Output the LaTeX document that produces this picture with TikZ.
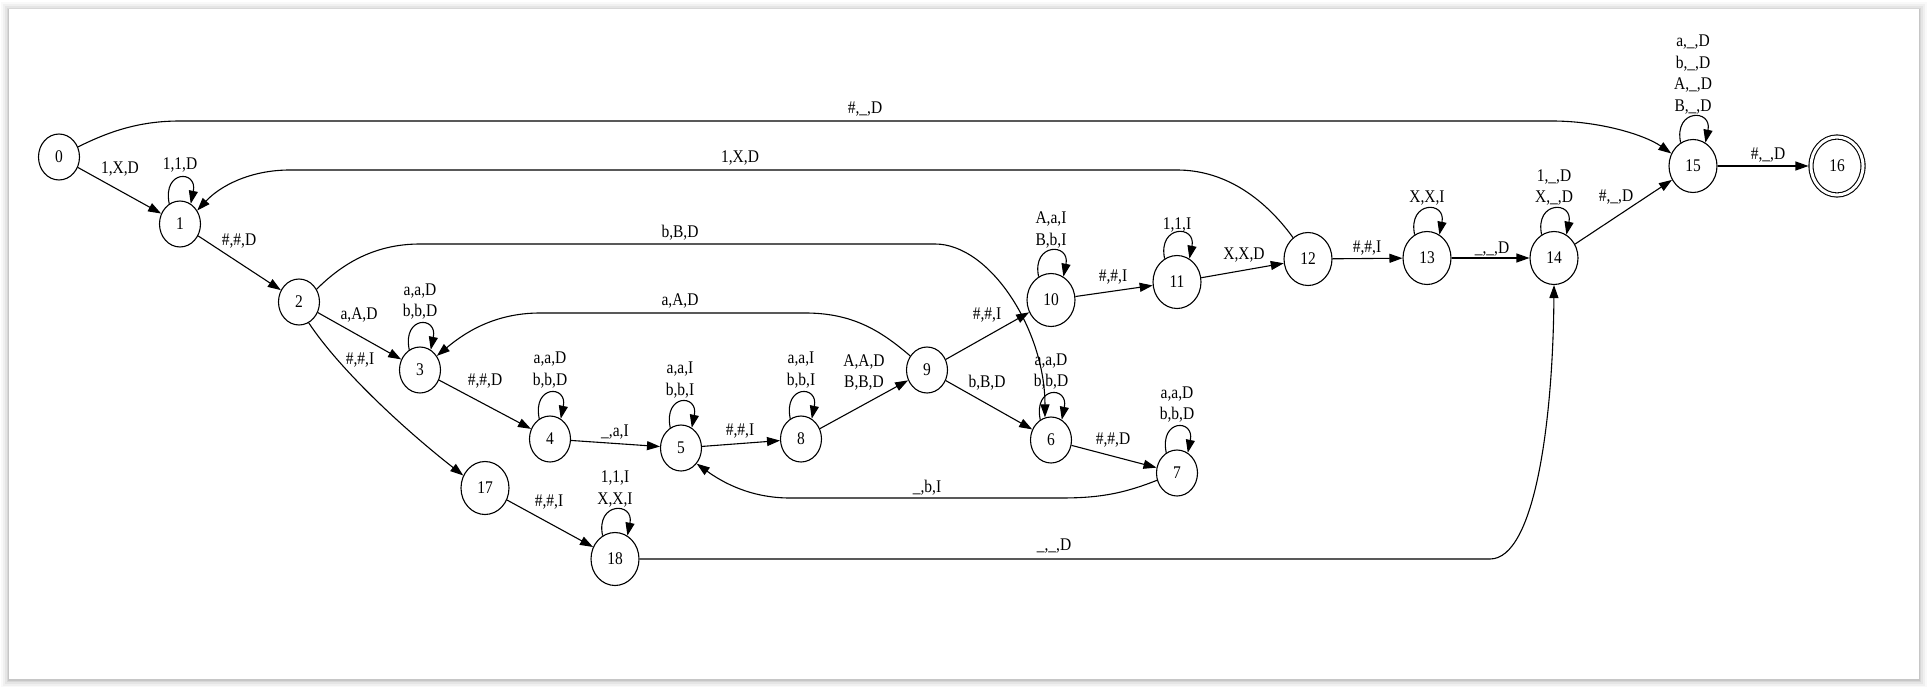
\documentclass[tikz,border=0pt]{standalone}
\usepackage{fontspec}
\setmainfont{Liberation Serif}[FakeStretch=0.87]
\usetikzlibrary{shapes.geometric,arrows.meta}
\newcommand\glab{\fontsize{17.8}{21.5}\selectfont}
\newcommand\gloop[1]{\draw[tr] (#1.118) .. controls +(-7,-34) and +(7,-34) .. (#1.62);}
\tikzset{
  st/.style={draw, ellipse, line width=1.1pt, minimum width=41pt, minimum height=46pt, inner sep=0pt, font=\glab},
  stw/.style={st, minimum width=48pt, minimum height=53pt},
  acc/.style={st, double, double distance=3pt, minimum width=52pt, minimum height=58pt},
  tr/.style={draw, line width=1.1pt, -{Triangle[length=13pt,width=9pt]}},
  lb/.style={font=\glab, align=center, inner sep=0pt},
}
\begin{document}
\begin{tikzpicture}[x=1pt,y=-1pt]
\useasboundingbox (0,0) rectangle (1927,687);
\fill[white] (0,0) rectangle (1927,687);
\foreach \i/\o in {8/0.025,6/0.035,4/0.045,2/0.06,1/0.08}
  \fill[black,opacity=\o] (9-\i,9-\i+1) rectangle (1919+\i,679+\i+1);
\fill[white] (9,9) rectangle (1919,679);

% states
\node[st]  (n0)  at (59,157)   {0};
\node[st]  (n1)  at (180,224)  {1};
\node[st]  (n2)  at (299,302)  {2};
\node[st]  (n3)  at (420,370)  {3};
\node[st]  (n4)  at (550,439)  {4};
\node[st]  (n5)  at (681,448)  {5};
\node[st]  (n8)  at (801,439)  {8};
\node[st]  (n9)  at (927,370)  {9};
\node[stw] (n10) at (1051,300) {10};
\node[stw] (n11) at (1177,282) {11};
\node[stw] (n12) at (1308,259) {12};
\node[stw] (n13) at (1427,258) {13};
\node[stw] (n14) at (1554,258) {14};
\node[stw] (n15) at (1693,166) {15};
\node[acc] (n16) at (1837,166) {16};
\node[st]  (n6)  at (1051,440) {6};
\node[st]  (n7)  at (1177,473) {7};
\node[stw] (n17) at (485,488)  {17};
\node[stw] (n18) at (615,559)  {18};

% straight transitions
\draw[tr] (n0) -- (n1);
\draw[tr] (n1) -- (n2);
\draw[tr] (n2) -- (n3);
\draw[tr] (n3) -- (n4);
\draw[tr] (n4) -- (n5);
\draw[tr] (n5) -- (n8);
\draw[tr] (n8) -- (n9);
\draw[tr] (n9) -- (n10);
\draw[tr] (n9) -- (n6);
\draw[tr] (n10) -- (n11);
\draw[tr] (n11) -- (n12);
\draw[tr] (n6) -- (n7);
\draw[tr] (n12) -- (n13);
\draw[tr] (n13) -- (n14);
\draw[tr] (n14) -- (n15);
\draw[tr, shorten >=2pt] (n15) -- (n16);
\draw[tr] (n17) -- (n18);

% curved transitions
\draw[tr] (n0.28) .. controls (110,131) and (140,121) .. (180,121) -- (1552,121)
  .. controls (1600,121) and (1645,135) .. (n15.150);
\draw[tr] (n12.125) .. controls (1262,195) and (1222,170) .. (1177,170) -- (290,170)
  .. controls (250,170) and (220,186) .. (n1.38);
\draw[tr] (n2.36) .. controls (340,266) and (372,244) .. (420,244) -- (935,244)
  .. controls (990,244) and (1045,330) .. (n6.105);
\draw[tr] (n9.140) .. controls (880,330) and (852,313) .. (805,313) -- (540,313)
  .. controls (492,313) and (462,335) .. (n3.40);
\draw[tr] (n7.200) .. controls (1120,495) and (1095,498) .. (1060,498) -- (790,498)
  .. controls (750,498) and (722,482) .. (n5.-45);
\draw[tr] (n18.east) -- (1490,559) .. controls (1535,559) and (1553,420) .. (n14.south);
\draw[tr] (n2.-65) .. controls (340,370) and (405,430) .. (n17.150);

% self loops
\gloop{n1}
\gloop{n3}
\gloop{n4}
\gloop{n5}
\gloop{n8}
\gloop{n10}
\gloop{n11}
\gloop{n6}
\gloop{n7}
\gloop{n13}
\gloop{n14}
\gloop{n15}
\gloop{n18}

% labels
\node[lb] (t01)   at (120,169)   {1,X,D};
\node[lb] (t11)   at (180,165)   {1,1,D};
\node[lb] (t015)  at (865,109)   {\#,\_,D};
\node[lb] (t121)  at (740,158)   {1,X,D};
\node[lb] (t12)   at (239,241)   {\#,\#,D};
\node[lb] (t26)   at (680,233)   {b,B,D};
\node[lb] (t23)   at (359,315)   {a,A,D};
\node[lb] (t217)  at (360,360)   {\#,\#,I};
\node[lb] (t33)   at (420,301.5) {a,a,D\\b,b,D};
\node[lb] (t93)   at (680,301)   {a,A,D};
\node[lb] (t34)   at (485,381)   {\#,\#,D};
\node[lb] (t44)   at (550,370)   {a,a,D\\b,b,D};
\node[lb] (t45)   at (615,432)   {\_,a,I};
\node[lb] (t55)   at (680,380)   {a,a,I\\b,b,I};
\node[lb] (t58)   at (740,431)   {\#,\#,I};
\node[lb] (t88)   at (801,370)   {a,a,I\\b,b,I};
\node[lb] (t89)   at (864,372.5) {A,A,D\\B,B,D};
\node[lb] (t910)  at (987,315)   {\#,\#,I};
\node[lb] (t96)   at (987,383)   {b,B,D};
\node[lb] (t1010) at (1051,230)  {A,a,I\\B,b,I};
\node[lb] (t1011) at (1113,277)  {\#,\#,I};
\node[lb] (t1111) at (1177,225)  {1,1,I};
\node[lb] (t1112) at (1244,255)  {X,X,D};
\node[lb] (t66)   at (1051,371.5) {a,a,D\\b,b,D};
\node[lb] (t67)   at (1113,440)  {\#,\#,D};
\node[lb] (t77)   at (1177,404.5) {a,a,D\\b,b,D};
\node[lb] (t75)   at (927,488)   {\_,b,I};
\node[lb] (t1213) at (1367,248)  {\#,\#,I};
\node[lb] (t1313) at (1427,198)  {X,X,I};
\node[lb] (t1314) at (1492,249)  {\_,\_,D};
\node[lb] (t1414) at (1554,187.5) {1,\_,D\\X,\_,D};
\node[lb] (t1415) at (1616,197)  {\#,\_,D};
\node[lb] (t1515) at (1693,74.5) {a,\_,D\\b,\_,D\\A,\_,D\\B,\_,D};
\node[lb] (t1516) at (1768,155)  {\#,\_,D};
\node[lb] (t1718) at (549,502)   {\#,\#,I};
\node[lb] (t1818) at (615,489)   {1,1,I\\X,X,I};
\node[lb] (t1814) at (1054,546)  {\_,\_,D};
\end{tikzpicture}
\end{document}
